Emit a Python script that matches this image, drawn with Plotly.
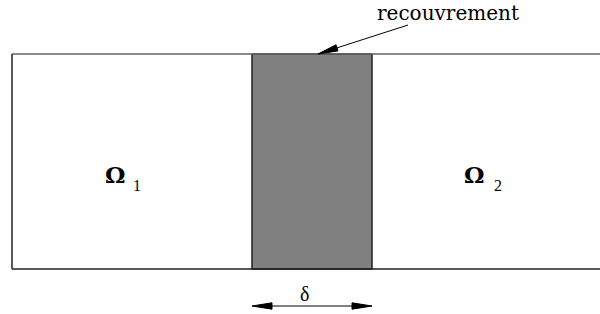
import math
import plotly.graph_objects as go

# Domain geometry (diagram units = pixels of the original drawing)
domain_x = [12, 600]          # outer rectangle left / right
domain_y = [54, 269]          # top / bottom
overlap_x = [252, 372]        # recouvrement band
labels = ["Ω", "Ω"]
subscripts = ["1", "2"]
label_x = [114.5, 473.5]
label_y = [174, 174]
sub_x = [137, 497.5]
sub_y = [185, 185]
overlap_label = "recouvrement"
overlap_label_pos = [448, 13]
pointer_tail = [408, 25]
pointer_tip = [318, 54]
delta_label = "δ"
delta_label_pos = [304, 294]
delta_y = 306

HEAD_LEN = 20
HEAD_HALF = 3.2

fig = go.Figure()


def arrow_head(tail, tip):
    dx, dy = tip[0] - tail[0], tip[1] - tail[1]
    L = math.hypot(dx, dy)
    ux, uy = dx / L, dy / L
    bx, by = tip[0] - HEAD_LEN * ux, tip[1] - HEAD_LEN * uy
    nx, ny = -uy, ux
    p1 = (bx + HEAD_HALF * nx, by + HEAD_HALF * ny)
    p2 = (bx - HEAD_HALF * nx, by - HEAD_HALF * ny)
    path = f"M {tip[0]},{tip[1]} L {p1[0]},{p1[1]} L {p2[0]},{p2[1]} Z"
    return dict(type="path", xref="x", yref="y", path=path, fillcolor="black",
                line=dict(color="black", width=1)), (bx, by)


shapes = []
shapes.append(dict(type="rect", xref="x", yref="y", x0=overlap_x[0], x1=overlap_x[1],
                   y0=domain_y[0], y1=domain_y[1], fillcolor="#808080",
                   line=dict(color="#222222", width=1.5), layer="below"))
shapes.append(dict(type="line", xref="x", yref="y", x0=domain_x[0], x1=domain_x[1],
                   y0=domain_y[0], y1=domain_y[0], line=dict(color="#666666", width=1.5)))
shapes.append(dict(type="line", xref="x", yref="y", x0=domain_x[0], x1=domain_x[1],
                   y0=domain_y[1], y1=domain_y[1], line=dict(color="#222222", width=1.5)))
shapes.append(dict(type="line", xref="x", yref="y", x0=domain_x[0], x1=domain_x[0],
                   y0=domain_y[0], y1=domain_y[1], line=dict(color="#222222", width=1.5)))

# pointer arrow to the overlap
head, base = arrow_head(pointer_tail, pointer_tip)
shapes.append(dict(type="line", xref="x", yref="y", x0=pointer_tail[0], y0=pointer_tail[1],
                   x1=base[0], y1=base[1], line=dict(color="black", width=1)))
shapes.append(head)

# delta double arrow
left, right = (overlap_x[0], delta_y), (overlap_x[1], delta_y)
headR, baseR = arrow_head(left, right)
headL, baseL = arrow_head(right, left)
shapes.append(dict(type="line", xref="x", yref="y", x0=baseL[0], y0=delta_y,
                   x1=baseR[0], y1=delta_y, line=dict(color="black", width=1)))
shapes.append(headR)
shapes.append(headL)

annotations = []
for lab, sub, lx, ly, sx, sy in zip(labels, subscripts, label_x, label_y, sub_x, sub_y):
    annotations.append(dict(x=lx, y=ly, xref="x", yref="y", text="<b>" + lab + "</b>",
                            showarrow=False,
                            font=dict(family="DejaVu Serif", size=23, color="black")))
    annotations.append(dict(x=sx, y=sy, xref="x", yref="y", text=sub, showarrow=False,
                            font=dict(family="Liberation Serif", size=16, color="black")))

annotations.append(dict(x=overlap_label_pos[0], y=overlap_label_pos[1], xref="x", yref="y",
                        text=overlap_label, showarrow=False,
                        font=dict(family="DejaVu Serif", size=20, color="black")))
annotations.append(dict(x=delta_label_pos[0], y=delta_label_pos[1], xref="x", yref="y",
                        text=delta_label, showarrow=False,
                        font=dict(family="Liberation Serif", size=20, color="black")))

fig.update_layout(
    width=600, height=314, margin=dict(l=0, r=0, t=0, b=0),
    paper_bgcolor="white", plot_bgcolor="white",
    xaxis=dict(range=[0, 600], visible=False, fixedrange=True),
    yaxis=dict(range=[314, 0], visible=False, fixedrange=True),
    shapes=shapes, annotations=annotations, showlegend=False,
)

fig.write_html("out.html", config={"displayModeBar": False},
               post_script="document.body.style.margin='0';")
